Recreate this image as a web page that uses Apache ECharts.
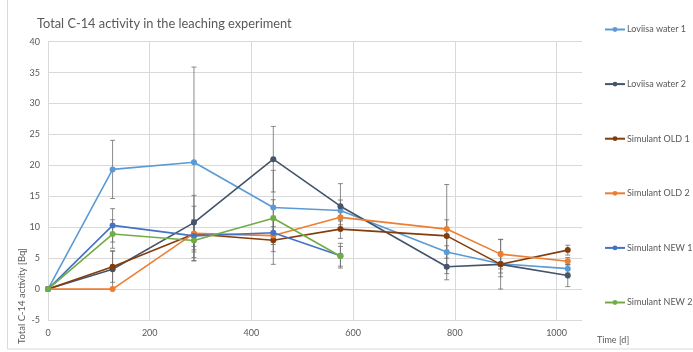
<!DOCTYPE html>
<html>
<head>
<meta charset="utf-8">
<script src="https://cdn.jsdelivr.net/npm/echarts@6/dist/echarts.min.js"></script>
<style>
  html, body { margin: 0; padding: 0; background: #fff; }
  #chart { width: 693px; height: 352px; }
</style>
</head>
<body>
<div id="chart"></div>
<script>
// Sampling times in days
const timesAll = [0, 127, 287, 443, 575, 784, 890, 1022];
const timesNew = [0, 127, 287, 443, 575];

// Total C-14 activity [Bq]
const loviisa1 = [0, 19.35, 20.5, 13.2, 12.7, 6.0, 4.1, 3.3];
const loviisa2 = [0, 3.2, 10.75, 21.0, 13.4, 3.6, 4.0, 2.2];
const oldSim1 = [0, 3.6, 8.9, 7.9, 9.7, 8.6, 4.0, 6.3];
const oldSim2 = [0, 0, 9.0, 8.65, 11.6, 9.7, 5.65, 4.5];
const newSim1 = [0, 10.3, 8.6, 9.1, 5.4];
const newSim2 = [0, 8.9, 7.85, 11.45, 5.3];

// Error bar half-widths [Bq]
const loviisa1Err = [0, 4.7, 15.4, 6.0, 1.7, 1.0, 1.5, 0.7];
const loviisa2Err = [0, 3.0, 4.4, 5.3, 3.65, 2.1, 2.0, 1.8];
const oldSim1Err = [0, 2.5, 2.0, 3.9, 1.5, 2.6, 4.0, 0.8];
const oldSim2Err = [0, 0, 4.4, 2.6, 1.2, 7.2, 2.4, 0.6];
const newSim1Err = [0, 2.7, 2.6, 1.0, 2.0];
const newSim2Err = [0, 2.3, 3.3, 3.0, 1.6];

const seriesDefs = [
  { name: 'Loviisa water 1', x: timesAll, y: loviisa1, e: loviisa1Err, color: '#5B9BD5' },
  { name: 'Loviisa water 2', x: timesAll, y: loviisa2, e: loviisa2Err, color: '#44546A' },
  { name: 'Simulant OLD 1', x: timesAll, y: oldSim1, e: oldSim1Err, color: '#843C0C' },
  { name: 'Simulant OLD 2', x: timesAll, y: oldSim2, e: oldSim2Err, color: '#ED7D31' },
  { name: 'Simulant NEW 1', x: timesNew, y: newSim1, e: newSim1Err, color: '#4472C4' },
  { name: 'Simulant NEW 2', x: timesNew, y: newSim2, e: newSim2Err, color: '#70AD47' }
];

const FONT = 'Lato, "Open Sans", sans-serif';
const TEXT = '#595959';
const GRID = '#d9d9d9';

// Whisker: vertical line from low to high with short caps
function renderErrorBar(params, api) {
  const x = api.value(0);
  const lo = api.coord([x, api.value(1)]);
  const hi = api.coord([x, api.value(2)]);
  const cap = 2.5;
  const style = { stroke: 'rgba(110,110,110,0.8)', lineWidth: 1 };
  return {
    type: 'group',
    children: [
      { type: 'line', shape: { x1: lo[0], y1: lo[1], x2: hi[0], y2: hi[1] }, style },
      { type: 'line', shape: { x1: lo[0] - cap, y1: lo[1], x2: lo[0] + cap, y2: lo[1] }, style },
      { type: 'line', shape: { x1: hi[0] - cap, y1: hi[1], x2: hi[0] + cap, y2: hi[1] }, style }
    ]
  };
}

const series = [];
seriesDefs.forEach(d => {
  series.push({
    type: 'custom',
    name: d.name + ' error',
    renderItem: renderErrorBar,
    data: d.x.map((t, i) => [t, d.y[i] - d.e[i], d.y[i] + d.e[i]]).filter(p => p[1] !== p[2]),
    z: 1,
    silent: true
  });
});
seriesDefs.forEach(d => {
  series.push({
    type: 'line',
    name: d.name,
    data: d.x.map((t, i) => [t, d.y[i]]),
    color: d.color,
    symbol: 'circle',
    symbolSize: 6,
    lineStyle: { width: 1.6 },
    z: 3
  });
});

const chart = echarts.init(document.getElementById('chart'), null, { renderer: 'canvas' });
chart.setOption({
  animation: false,
  backgroundColor: '#fff',
  title: {
    text: 'Total C-14 activity in the leaching experiment',
    left: 32, top: 12,
    textStyle: { fontFamily: FONT, fontSize: 12.8, fontWeight: 'normal', color: TEXT }
  },
  grid: { left: 48, right: 111, top: 41.7, bottom: 32, containLabel: false },
  xAxis: {
    type: 'value', min: 0, max: 1050, interval: 200,
    axisLine: { show: false },
    axisTick: { show: false },
    axisLabel: { color: TEXT, fontFamily: FONT, fontSize: 9, showMaxLabel: false, margin: 9,
                 formatter: v => String(v) },
    splitLine: { show: true, showMaxLine: false, lineStyle: { color: GRID, width: 1 } }
  },
  yAxis: {
    type: 'value', min: -5, max: 40, interval: 5,
    axisLine: { show: false },
    axisTick: { show: false },
    axisLabel: { color: TEXT, fontFamily: FONT, fontSize: 9, margin: 8 },
    splitLine: { show: true, lineStyle: { color: GRID, width: 1 } }
  },
  legend: {
    orient: 'vertical',
    left: 599, top: 20,
    itemWidth: 20, itemHeight: 6,
    itemGap: 45.6,
    data: seriesDefs.map(d => d.name),
    textStyle: { color: TEXT, fontFamily: FONT, fontSize: 9, padding: [0, 0, 0, -3] }
  },
  graphic: [
    {
      type: 'rect', silent: true, z: -1,
      shape: { x: 7.5, y: -2, width: 700, height: 351 },
      style: { fill: 'none', stroke: GRID, lineWidth: 1 }
    },
    {
      type: 'text', x: 22, y: 296, rotation: Math.PI / 2,
      style: { text: 'Total C-14 activity [Bq]', fill: TEXT, font: '9.5px ' + FONT, align: 'center', verticalAlign: 'middle' }
    },
    {
      type: 'text', x: 597, y: 340,
      style: { text: 'Time [d]', fill: TEXT, font: '9px ' + FONT, align: 'left', verticalAlign: 'middle' }
    }
  ],
  series
});
</script>
</body>
</html>
